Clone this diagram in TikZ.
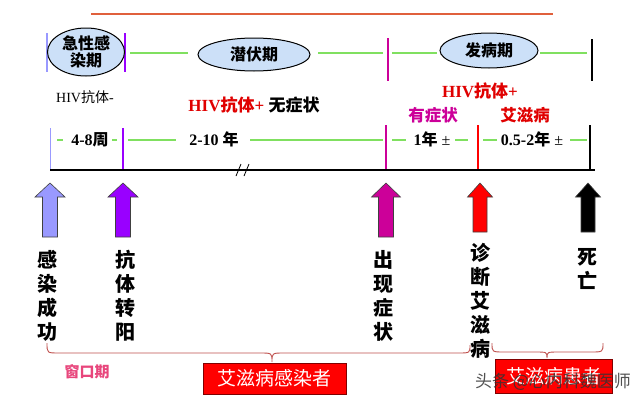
\documentclass[tikz,border=0pt]{standalone}
\usepackage{fontspec}
\setmainfont{Liberation Serif}
\newfontfamily\cjk{Noto Sans CJK SC}
\usetikzlibrary{shapes.geometric}
\definecolor{topline}{HTML}{E0603C}
\definecolor{lav}{HTML}{9999FF}
\definecolor{purp}{HTML}{9900FF}
\definecolor{mag}{HTML}{CC0099}
\definecolor{grn}{HTML}{80E060}
\definecolor{ellfill}{HTML}{CCE0F8}
\definecolor{bracec}{HTML}{C0504D}
\definecolor{pinkt}{HTML}{E8467C}
\definecolor{redt}{HTML}{E00000}
\newcommand\blockarrow[6]{% x, ytop, ybot, headhalf, shafthalf, colour
  \filldraw[fill=#6, draw=black!75, line width=0.6pt]
    (#1-#4,#2+14) -- (#1,#2) -- (#1+#4,#2+14) -- (#1+#5,#2+14) -- (#1+#5,#3)
    -- (#1-#5,#3) -- (#1-#5,#2+14) -- cycle;}
\newcommand\curlybrace[7]{% x1, ytop1, x2, ytop2, ymid, xtip, ytip
  \draw[bracec, line width=0.9pt]
    (#1,#2) .. controls (#1,#5) .. (#1+12,#5) -- (#6-12,#5)
    .. controls (#6,#5) .. (#6,#7) .. controls (#6,#5) .. (#6+12,#5)
    -- (#3-12,#5) .. controls (#3,#5) .. (#3,#4);}
\begin{document}
\begin{tikzpicture}[x=1pt,y=-1pt,
  phase/.style={ellipse, draw=black, line width=1pt, fill=ellfill, inner sep=0pt,
    font=\cjk\bfseries\fontsize{16}{19}\selectfont, align=center},
  gline/.style={grn, line width=1.4pt},
  tickl/.style={line width=1.5pt},
  vlab/.style={anchor=north, align=center, inner sep=0pt,
    font=\cjk\bfseries\fontsize{20}{24}\selectfont},
  dur/.style={inner sep=0pt, font=\bfseries\fontsize{16}{19}\selectfont},
  redbox/.style={fill=red, draw=red!50!black, line width=0.8pt, inner sep=0pt,
    text=white, font=\cjk\fontsize{19}{22}\selectfont}
]
\useasboundingbox[fill=white] (0,0) rectangle (640,402);

% top line
\draw[topline, line width=2pt] (91,14) -- (553,14);

% top row ticks
\draw[tickl, lav]  (47,33) -- (47,72);
\draw[tickl, purp] (125,33) -- (125,72);
\draw[tickl, mag]  (388,38) -- (388,81);
\draw[tickl, black] (592,39) -- (592,81);

% phase ellipses
\node[phase, minimum width=77pt, minimum height=48pt] (acute) at (86,52) {急性感\\[-2pt]染期};
\node[phase, minimum width=112pt, minimum height=33pt] (latent) at (254,54.5) {潜伏期};
\node[phase, minimum width=98pt, minimum height=35pt] (onset) at (489,50.5) {发病期};

% top row green lines
\draw[gline] (130,53) -- (188,53);
\draw[gline] (318,53) -- (383,53);
\draw[gline] (392,53) -- (437,53);
\draw[gline] (540,53) -- (587,53);

% middle texts
\node[inner sep=0pt, font=\fontsize{14}{16}\selectfont] (neg) at (85,97) {HIV{\cjk 抗体}-};
\node[inner sep=0pt, font=\fontsize{17}{20}\selectfont] (pos1) at (254,105)
  {{\bfseries\color{redt}HIV{\cjk 抗体}+} {\cjk\bfseries 无症状}};
\node[inner sep=0pt, font=\bfseries\fontsize{17}{20}\selectfont, text=redt] (pos2) at (480,91) {HIV{\cjk 抗体}+};
\node[inner sep=0pt, font=\cjk\bfseries\fontsize{16.5}{20}\selectfont, text=mag] (sym) at (433,115) {有症状};
\node[inner sep=0pt, font=\cjk\bfseries\fontsize{16.5}{20}\selectfont, text=redt] (aids) at (525,115) {艾滋病};

% second row ticks
\draw[tickl, lav]  (50.5,128) -- (50.5,170);
\draw[tickl, purp] (123,128) -- (123,170);
\draw[tickl, mag]  (386,125) -- (386,170);
\draw[tickl, red]  (478,125) -- (478,170);
\draw[tickl, black] (590,125) -- (590,170);

% durations
\node[dur] (d1) at (90,140) {4-8{\cjk 周}};
\node[dur] (d2) at (214,139) {2-10 {\cjk 年}};
\node[dur] (d3) at (432,139) {1{\cjk 年} {\mdseries ±}};
\node[dur] (d4) at (532,139) {0.5-2{\cjk 年} {\mdseries ±}};
\draw[gline] (57,140) -- (63,140);
\draw[gline] (112,140) -- (117,140);
\draw[gline] (128,140) -- (176,140);
\draw[gline] (250,140) -- (383,140);
\draw[gline] (392,140) -- (406,140);
\draw[gline] (455,140) -- (468,140);
\draw[gline] (483,140) -- (497,140);
\draw[gline] (570,140) -- (587,140);

% baseline
\draw[line width=2.5pt] (50,170) -- (595,170);
\draw[line width=0.8pt] (236,176) -- (241,164) (244,176) -- (249,164);

% block arrows
\blockarrow{50}{183}{237}{15}{7.5}{lav}
\blockarrow{123}{183}{237}{15}{7.5}{purp}
\blockarrow{386}{183}{237}{14.5}{7.5}{mag}
\blockarrow{480}{183}{232}{12.5}{7}{red}
\blockarrow{588}{183}{232}{12.5}{7}{black}

% vertical labels
\node[vlab] (v1) at (47,250) {感\\染\\成\\功};
\node[vlab] (v2) at (125,250) {抗\\体\\转\\阳};
\node[vlab] (v3) at (383,250) {出\\现\\症\\状};
\node[vlab] (v4) at (480,243) {诊\\断\\艾\\滋\\病};
\node[vlab] (v5) at (587,248) {死\\亡};

% braces
\curlybrace{47}{343}{470}{345}{353}{272}{362}
\curlybrace{492}{343}{603}{343}{352}{547}{358}

\node[inner sep=0pt, font=\cjk\bfseries\fontsize{15}{18}\selectfont, text=pinkt] (win) at (87,372) {窗口期};
\node[redbox, minimum width=143pt, minimum height=31pt] (inf) at (274.5,378.5) {艾滋病感染者};
\node[redbox, minimum width=117pt, minimum height=34pt] (pat) at (553.5,376) {艾滋病患者};

% watermark
\node[inner sep=0pt, font=\cjk\fontsize{17}{20}\selectfont, text=black!80, opacity=0.85] (wm) at (553,382) {头条 @心内科魏医师};
\end{tikzpicture}
\end{document}
